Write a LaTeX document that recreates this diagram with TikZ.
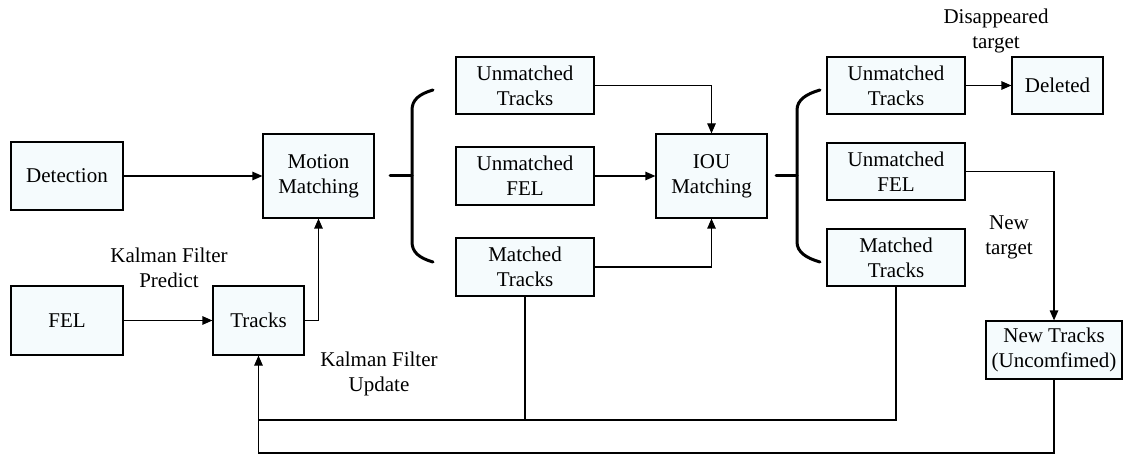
\documentclass[tikz,border=0pt]{standalone}
\usepackage{fontspec}
\setmainfont{Liberation Serif}
\usetikzlibrary{arrows.meta}
\definecolor{boxfill}{RGB}{245,251,253}
\tikzset{
  box/.style={draw=black, fill=boxfill, line width=1.2pt, inner sep=0pt, align=center,
    font=\fontsize{21}{25}\selectfont},
  lbl/.style={align=center, inner sep=0pt, font=\fontsize{21}{25}\selectfont},
  conn/.style={line width=1.2pt},
  arr/.style={conn, -{Triangle[length=10pt,width=8.5pt]}},
  bracepath/.style={line width=3pt, line cap=round}
}
\begin{document}
\begin{tikzpicture}[x=1pt,y=-1pt]
\useasboundingbox (0,0) rectangle (1123,454);
% nodes
\node[box, minimum width=112pt, minimum height=68pt] (det) at (67,176) {Detection};
\node[box, minimum width=111pt, minimum height=84pt] (mm) at (318.5,176) {Motion\\Matching};
\node[box, minimum width=112pt, minimum height=69pt] (fel) at (67,320.5) {FEL};
\node[box, minimum width=91pt, minimum height=69pt] (tr) at (258.5,320.5) {Tracks};
\node[box, minimum width=138pt, minimum height=57pt] (ut1) at (525,85.5) {Unmatched\\Tracks};
\node[box, minimum width=138pt, minimum height=58pt] (uf1) at (525,176) {Unmatched\\FEL};
\node[box, minimum width=138pt, minimum height=58pt] (mt1) at (525,267) {Matched\\Tracks};
\node[box, minimum width=111pt, minimum height=84pt] (iou) at (711.5,176) {IOU\\Matching};
\node[box, minimum width=138pt, minimum height=57pt] (ut2) at (896,85.5) {Unmatched\\Tracks};
\node[box, minimum width=91pt, minimum height=57pt] (del) at (1057.5,85.5) {Deleted};
\node[box, minimum width=138pt, minimum height=57pt] (uf2) at (896,171.5) {Unmatched\\FEL};
\node[box, minimum width=138pt, minimum height=57pt] (mt2) at (896,257.5) {Matched\\Tracks};
\node[box, minimum width=136pt, minimum height=58pt] (nt) at (1054,350) {New Tracks\\(Uncomfimed)};
% labels
\node[lbl] (kfp) at (169,267.5) {Kalman Filter\\Predict};
\node[lbl] (kfu) at (379,373.5) {Kalman Filter\\Update};
\node[lbl] (dis) at (996,31) {Disappeared\\target};
\node[lbl] (newt) at (1009,237) {New\\target};
% connectors
\draw[arr] (det.east) -- (mm.west);
\draw[arr] (fel.east) -- (tr.west);
\draw[arr] (tr.east) -| (mm.south);
\draw[arr] (ut1.east) -| (iou.north);
\draw[arr] (uf1.east) -- (iou.west);
\draw[arr] (mt1.east) -| (iou.south);
\draw[arr] (ut2.east) -- (del.west);
\draw[arr] (uf2.east) -| (nt.north);
\coordinate (j1) at (258.5,420);
\coordinate (j2) at (258.5,453);
\draw[conn] (mt2.south) |- (j1);
\draw[conn] (mt1.south) -- (mt1.south |- j1);
\draw[arr] (nt.south) |- (j2) -- (tr.south);
% braces
\coordinate (b1) at (390,176);
\coordinate (b2) at (776,176);
\draw[bracepath] (433,90) .. controls (419,94) and (412,100) .. (412,110) -- (412,242) .. controls (412,252) and (419,258) .. (433,262);
\draw[bracepath] (b1) -- (412,176);
\draw[bracepath] (820,90) .. controls (806,94) and (797,100) .. (797,110) -- (797,242) .. controls (797,252) and (806,258) .. (820,262);
\draw[bracepath] (b2) -- (797,176);
\end{tikzpicture}
\end{document}
